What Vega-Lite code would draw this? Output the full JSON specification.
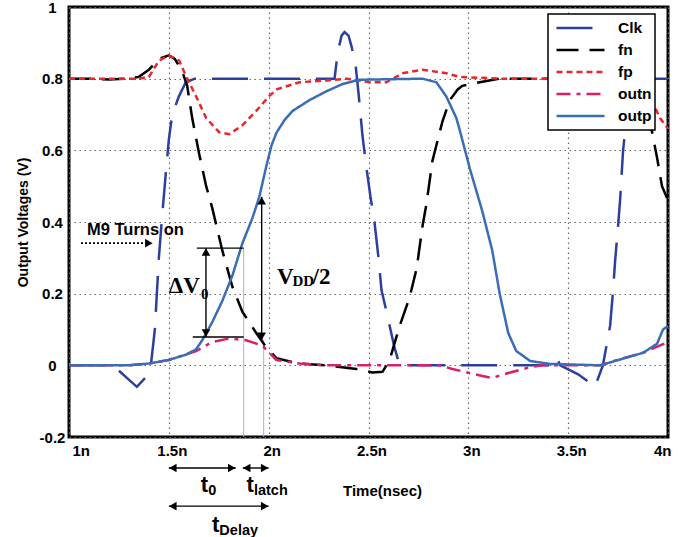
{
  "$schema": "https://vega.github.io/schema/vega-lite/v6.json",
  "width": 599,
  "height": 430,
  "autosize": {"type": "none"},
  "padding": {"left": 69, "top": 7, "right": 21, "bottom": 100},
  "background": "white",
  "config": {
    "view": {"stroke": "black", "strokeWidth": 3},
    "font": "Liberation Sans",
    "axis": {
      "grid": true, "gridDash": [1.5, 3.5], "gridColor": "#666666", "gridWidth": 1.2,
      "domain": false, "ticks": false,
      "labelFont": "Liberation Sans", "labelFontWeight": "bold", "labelFontSize": 15, "labelColor": "black",
      "titleFont": "Liberation Sans", "titleFontWeight": "bold", "titleColor": "black"
    },
    "legend": {
      "orient": "none", "legendX": 479, "legendY": 7, "direction": "vertical", "columns": 1,
      "fillColor": "white", "strokeColor": "black", "strokeWidth": 1.5,
      "padding": 3, "symbolType": "stroke", "symbolSize": 2304, "clipHeight": 22, "symbolOffset": 4,
      "labelFont": "Liberation Sans", "labelFontWeight": "bold", "labelFontSize": 15.5, "labelColor": "black",
      "labelOffset": 12, "rowPadding": 0, "labelAlign": "left", "gridAlign": "all"
    }
  },
  "datasets": {
    "curves": [
      {"s": "Clk", "t": 1.0, "v": 0}, {"s": "Clk", "t": 1.22, "v": 0}, {"s": "Clk", "t": 1.28, "v": -0.03}, {"s": "Clk", "t": 1.34, "v": -0.06},
      {"s": "Clk", "t": 1.39, "v": -0.03}, {"s": "Clk", "t": 1.41, "v": 0}, {"s": "Clk", "t": 1.43, "v": 0.1}, {"s": "Clk", "t": 1.44, "v": 0.2},
      {"s": "Clk", "t": 1.45, "v": 0.3}, {"s": "Clk", "t": 1.467, "v": 0.42}, {"s": "Clk", "t": 1.487, "v": 0.55}, {"s": "Clk", "t": 1.5, "v": 0.63},
      {"s": "Clk", "t": 1.517, "v": 0.7}, {"s": "Clk", "t": 1.55, "v": 0.75}, {"s": "Clk", "t": 1.585, "v": 0.79}, {"s": "Clk", "t": 1.63, "v": 0.8},
      {"s": "Clk", "t": 2.33, "v": 0.8}, {"s": "Clk", "t": 2.345, "v": 0.87}, {"s": "Clk", "t": 2.365, "v": 0.92}, {"s": "Clk", "t": 2.38, "v": 0.93},
      {"s": "Clk", "t": 2.4, "v": 0.92}, {"s": "Clk", "t": 2.415, "v": 0.89}, {"s": "Clk", "t": 2.435, "v": 0.84}, {"s": "Clk", "t": 2.45, "v": 0.76},
      {"s": "Clk", "t": 2.47, "v": 0.64}, {"s": "Clk", "t": 2.49, "v": 0.55}, {"s": "Clk", "t": 2.51, "v": 0.47}, {"s": "Clk", "t": 2.53, "v": 0.4},
      {"s": "Clk", "t": 2.55, "v": 0.3}, {"s": "Clk", "t": 2.565, "v": 0.21}, {"s": "Clk", "t": 2.59, "v": 0.15}, {"s": "Clk", "t": 2.63, "v": 0.05},
      {"s": "Clk", "t": 2.656, "v": 0}, {"s": "Clk", "t": 3.43, "v": 0}, {"s": "Clk", "t": 3.445, "v": 0.02}, {"s": "Clk", "t": 3.46, "v": 0},
      {"s": "Clk", "t": 3.55, "v": -0.025}, {"s": "Clk", "t": 3.6, "v": -0.045}, {"s": "Clk", "t": 3.634, "v": -0.06}, {"s": "Clk", "t": 3.674, "v": 0},
      {"s": "Clk", "t": 3.71, "v": 0.11}, {"s": "Clk", "t": 3.725, "v": 0.21}, {"s": "Clk", "t": 3.735, "v": 0.29}, {"s": "Clk", "t": 3.75, "v": 0.39},
      {"s": "Clk", "t": 3.76, "v": 0.46}, {"s": "Clk", "t": 3.775, "v": 0.6}, {"s": "Clk", "t": 3.79, "v": 0.68}, {"s": "Clk", "t": 3.82, "v": 0.75},
      {"s": "Clk", "t": 3.85, "v": 0.79}, {"s": "Clk", "t": 3.89, "v": 0.8}, {"s": "Clk", "t": 4.0, "v": 0.8},

      {"s": "fn", "t": 1.0, "v": 0.8}, {"s": "fn", "t": 1.1, "v": 0.8}, {"s": "fn", "t": 1.2, "v": 0.798}, {"s": "fn", "t": 1.3, "v": 0.8},
      {"s": "fn", "t": 1.35, "v": 0.805}, {"s": "fn", "t": 1.4, "v": 0.825}, {"s": "fn", "t": 1.45, "v": 0.855}, {"s": "fn", "t": 1.5, "v": 0.865},
      {"s": "fn", "t": 1.53, "v": 0.855}, {"s": "fn", "t": 1.567, "v": 0.82}, {"s": "fn", "t": 1.592, "v": 0.78}, {"s": "fn", "t": 1.617, "v": 0.69},
      {"s": "fn", "t": 1.652, "v": 0.59}, {"s": "fn", "t": 1.687, "v": 0.5}, {"s": "fn", "t": 1.717, "v": 0.44}, {"s": "fn", "t": 1.768, "v": 0.32},
      {"s": "fn", "t": 1.818, "v": 0.22}, {"s": "fn", "t": 1.868, "v": 0.15}, {"s": "fn", "t": 1.938, "v": 0.09}, {"s": "fn", "t": 1.988, "v": 0.05},
      {"s": "fn", "t": 2.039, "v": 0.02}, {"s": "fn", "t": 2.15, "v": 0.005}, {"s": "fn", "t": 2.29, "v": 0}, {"s": "fn", "t": 2.44, "v": -0.01},
      {"s": "fn", "t": 2.52, "v": -0.02}, {"s": "fn", "t": 2.57, "v": -0.018}, {"s": "fn", "t": 2.606, "v": 0.015}, {"s": "fn", "t": 2.656, "v": 0.11},
      {"s": "fn", "t": 2.706, "v": 0.19}, {"s": "fn", "t": 2.741, "v": 0.27}, {"s": "fn", "t": 2.771, "v": 0.39}, {"s": "fn", "t": 2.79, "v": 0.45},
      {"s": "fn", "t": 2.82, "v": 0.57}, {"s": "fn", "t": 2.87, "v": 0.68}, {"s": "fn", "t": 2.907, "v": 0.74}, {"s": "fn", "t": 2.947, "v": 0.77},
      {"s": "fn", "t": 2.97, "v": 0.78}, {"s": "fn", "t": 3.057, "v": 0.79}, {"s": "fn", "t": 3.157, "v": 0.8}, {"s": "fn", "t": 3.86, "v": 0.8},
      {"s": "fn", "t": 3.885, "v": 0.76}, {"s": "fn", "t": 3.91, "v": 0.68}, {"s": "fn", "t": 3.945, "v": 0.58}, {"s": "fn", "t": 3.97, "v": 0.5},
      {"s": "fn", "t": 4.0, "v": 0.46},

      {"s": "fp", "t": 1.0, "v": 0.8}, {"s": "fp", "t": 1.35, "v": 0.8}, {"s": "fp", "t": 1.4, "v": 0.805}, {"s": "fp", "t": 1.45, "v": 0.85},
      {"s": "fp", "t": 1.5, "v": 0.865}, {"s": "fp", "t": 1.552, "v": 0.85}, {"s": "fp", "t": 1.592, "v": 0.8}, {"s": "fp", "t": 1.637, "v": 0.75},
      {"s": "fp", "t": 1.687, "v": 0.69}, {"s": "fp", "t": 1.753, "v": 0.65}, {"s": "fp", "t": 1.803, "v": 0.645}, {"s": "fp", "t": 1.868, "v": 0.67},
      {"s": "fp", "t": 1.938, "v": 0.71}, {"s": "fp", "t": 2.0, "v": 0.75}, {"s": "fp", "t": 2.04, "v": 0.77}, {"s": "fp", "t": 2.154, "v": 0.79},
      {"s": "fp", "t": 2.29, "v": 0.795}, {"s": "fp", "t": 2.39, "v": 0.8}, {"s": "fp", "t": 2.505, "v": 0.79}, {"s": "fp", "t": 2.59, "v": 0.79},
      {"s": "fp", "t": 2.67, "v": 0.815}, {"s": "fp", "t": 2.77, "v": 0.825}, {"s": "fp", "t": 2.89, "v": 0.815}, {"s": "fp", "t": 2.957, "v": 0.805},
      {"s": "fp", "t": 3.157, "v": 0.8}, {"s": "fp", "t": 3.76, "v": 0.8}, {"s": "fp", "t": 3.86, "v": 0.79}, {"s": "fp", "t": 3.91, "v": 0.75},
      {"s": "fp", "t": 3.96, "v": 0.69}, {"s": "fp", "t": 4.0, "v": 0.66},

      {"s": "outn", "t": 1.0, "v": 0}, {"s": "outn", "t": 1.3, "v": 0}, {"s": "outn", "t": 1.4, "v": 0.005}, {"s": "outn", "t": 1.5, "v": 0.015},
      {"s": "outn", "t": 1.637, "v": 0.04}, {"s": "outn", "t": 1.717, "v": 0.065}, {"s": "outn", "t": 1.803, "v": 0.075}, {"s": "outn", "t": 1.888, "v": 0.07},
      {"s": "outn", "t": 1.968, "v": 0.055}, {"s": "outn", "t": 2.039, "v": 0.015}, {"s": "outn", "t": 2.154, "v": 0.005}, {"s": "outn", "t": 2.29, "v": 0},
      {"s": "outn", "t": 2.857, "v": 0}, {"s": "outn", "t": 2.92, "v": -0.01}, {"s": "outn", "t": 3.07, "v": -0.03}, {"s": "outn", "t": 3.12, "v": -0.035},
      {"s": "outn", "t": 3.21, "v": -0.02}, {"s": "outn", "t": 3.31, "v": -0.005}, {"s": "outn", "t": 3.373, "v": 0}, {"s": "outn", "t": 3.66, "v": 0},
      {"s": "outn", "t": 3.745, "v": 0.015}, {"s": "outn", "t": 3.875, "v": 0.035}, {"s": "outn", "t": 4.0, "v": 0.065},

      {"s": "outp", "t": 1.0, "v": 0}, {"s": "outp", "t": 1.3, "v": 0}, {"s": "outp", "t": 1.4, "v": 0.005}, {"s": "outp", "t": 1.5, "v": 0.015},
      {"s": "outp", "t": 1.587, "v": 0.03}, {"s": "outp", "t": 1.637, "v": 0.045}, {"s": "outp", "t": 1.667, "v": 0.07}, {"s": "outp", "t": 1.717, "v": 0.12},
      {"s": "outp", "t": 1.768, "v": 0.18}, {"s": "outp", "t": 1.818, "v": 0.25}, {"s": "outp", "t": 1.868, "v": 0.34}, {"s": "outp", "t": 1.918, "v": 0.41},
      {"s": "outp", "t": 1.953, "v": 0.47}, {"s": "outp", "t": 1.99, "v": 0.56}, {"s": "outp", "t": 2.015, "v": 0.615}, {"s": "outp", "t": 2.04, "v": 0.65},
      {"s": "outp", "t": 2.08, "v": 0.685}, {"s": "outp", "t": 2.12, "v": 0.71},
      {"s": "outp", "t": 2.204, "v": 0.74}, {"s": "outp", "t": 2.29, "v": 0.765}, {"s": "outp", "t": 2.37, "v": 0.785}, {"s": "outp", "t": 2.455, "v": 0.797},
      {"s": "outp", "t": 2.77, "v": 0.8}, {"s": "outp", "t": 2.84, "v": 0.79}, {"s": "outp", "t": 2.89, "v": 0.75}, {"s": "outp", "t": 2.94, "v": 0.69},
      {"s": "outp", "t": 2.96, "v": 0.65}, {"s": "outp", "t": 3.007, "v": 0.55}, {"s": "outp", "t": 3.07, "v": 0.43}, {"s": "outp", "t": 3.12, "v": 0.32},
      {"s": "outp", "t": 3.157, "v": 0.2}, {"s": "outp", "t": 3.2, "v": 0.09}, {"s": "outp", "t": 3.24, "v": 0.04}, {"s": "outp", "t": 3.31, "v": 0.012},
      {"s": "outp", "t": 3.41, "v": 0.004},
      {"s": "outp", "t": 3.66, "v": 0}, {"s": "outp", "t": 3.875, "v": 0.035}, {"s": "outp", "t": 3.945, "v": 0.06}, {"s": "outp", "t": 3.975, "v": 0.1},
      {"s": "outp", "t": 4.0, "v": 0.11}
    ],
    "guides": [
      {"t": 1.875, "v": 0.327, "v2": -0.2},
      {"t": 1.975, "v": 0.07, "v2": -0.2}
    ],
    "dims": [
      {"t": 1.64, "t2": 1.875, "v": 0.327, "v2": 0.327},
      {"t": 1.62, "t2": 1.875, "v": 0.079, "v2": 0.079},
      {"t": 1.686, "t2": 1.686, "v": 0.327, "v2": 0.079},
      {"t": 1.965, "t2": 1.965, "v": 0.47, "v2": 0.07},
      {"t": 1.5, "t2": 1.835, "v": -0.2865, "v2": -0.2865},
      {"t": 1.87, "t2": 2.0, "v": -0.2865, "v2": -0.2865},
      {"t": 1.5, "t2": 2.0, "v": -0.393, "v2": -0.393}
    ],
    "m9": [
      {"t": 1.06, "t2": 1.39, "v": 0.341, "v2": 0.341}
    ],
    "heads": [
      {"t": 1.686, "v": 0.316, "dir": "up"},
      {"t": 1.686, "v": 0.09, "dir": "down"},
      {"t": 1.965, "v": 0.459, "dir": "up"},
      {"t": 1.965, "v": 0.081, "dir": "down"},
      {"t": 1.40, "v": 0.341, "dir": "right"},
      {"t": 1.52, "v": -0.2865, "dir": "left"},
      {"t": 1.815, "v": -0.2865, "dir": "right"},
      {"t": 1.89, "v": -0.2865, "dir": "left"},
      {"t": 1.98, "v": -0.2865, "dir": "right"},
      {"t": 1.52, "v": -0.393, "dir": "left"},
      {"t": 1.98, "v": -0.393, "dir": "right"}
    ],
    "sansBig": [
      {"t": 1.66, "v": -0.3535, "label": "t"},
      {"t": 1.889, "v": -0.3535, "label": "t"},
      {"t": 1.716, "v": -0.465, "label": "t"}
    ],
    "sansSub": [
      {"t": 1.697, "v": -0.362, "label": "0"},
      {"t": 1.926, "v": -0.362, "label": "latch"},
      {"t": 1.753, "v": -0.4735, "label": "Delay"}
    ],
    "m9text": [
      {"t": 1.09, "v": 0.364, "label": "M9 Turns on"}
    ],
    "serifBig": [
      {"t": 1.5, "v": 0.203, "label": "ΔV"},
      {"t": 2.042, "v": 0.227, "label": "V"},
      {"t": 2.22, "v": 0.227, "label": "/2"}
    ],
    "serifSub": [
      {"t": 1.661, "v": 0.185, "label": "0"},
      {"t": 2.119, "v": 0.221, "label": "DD"}
    ]
  },
  "encoding": {
    "x": {"field": "t", "type": "quantitative",
      "scale": {"domain": [1, 4], "nice": false, "zero": false},
      "axis": {"values": [1, 1.5, 2, 2.5, 3, 3.5, 4], "labelExpr": "datum.value + 'n'", "labelPadding": 6, "labelOffset": 3,
        "title": "Time(nsec)", "titleFontSize": 15, "titleX": 313, "titleY": 58, "titleAlign": "center", "titleBaseline": "alphabetic", "titleAnchor": null}},
    "y": {"field": "v", "type": "quantitative",
      "scale": {"domain": [-0.2, 1], "nice": false, "zero": false},
      "axis": {"values": [-0.2, 0, 0.2, 0.4, 0.6, 0.8, 1], "labelExpr": "'' + datum.value", "labelAlign": "center", "labelPadding": 17,
        "title": "Output Voltages (V)", "titleFontSize": 14, "titleX": -46, "titleY": 215, "titleAngle": -90, "titleAlign": "center", "titleBaseline": "middle", "titleAnchor": null}}
  },
  "layer": [
    {
      "data": {"name": "guides"},
      "mark": {"type": "rule", "color": "#b0b0b0", "strokeWidth": 1},
      "encoding": {"y2": {"field": "v2"}}
    },
    {
      "data": {"name": "curves"},
      "mark": {"type": "line", "strokeCap": "butt"},
      "encoding": {
        "color": {"field": "s", "type": "nominal",
          "scale": {"domain": ["Clk", "fn", "fp", "outn", "outp"], "range": ["#2c3f9e", "#000000", "#e8262b", "#d81f6b", "#3a6db5"]},
          "legend": {"title": null}},
        "strokeDash": {"field": "s", "type": "nominal",
          "scale": {"domain": ["Clk", "fn", "fp", "outn", "outp"], "range": [[36, 16], [22, 11], [6, 4], [14, 6, 4, 6], [1, 0]]},
          "legend": {"title": null}},
        "strokeWidth": {"field": "s", "type": "nominal",
          "scale": {"domain": ["Clk", "fn", "fp", "outn", "outp"], "range": [2.5, 2.5, 5, 3.2, 2.2]},
          "legend": {"title": null}}
      }
    },
    {
      "data": {"name": "dims"},
      "mark": {"type": "rule", "color": "black", "strokeWidth": 1.4},
      "encoding": {"x2": {"field": "t2"}, "y2": {"field": "v2"}}
    },
    {
      "data": {"name": "m9"},
      "mark": {"type": "rule", "color": "black", "strokeWidth": 1.6, "strokeDash": [2, 2]},
      "encoding": {"x2": {"field": "t2"}, "y2": {"field": "v2"}}
    },
    {
      "data": {"name": "heads"},
      "mark": {"type": "point", "filled": true, "color": "black", "size": 75, "opacity": 1},
      "encoding": {
        "shape": {"field": "dir", "type": "nominal",
          "scale": {"domain": ["up", "down", "left", "right"], "range": ["triangle-up", "triangle-down", "triangle-left", "triangle-right"]},
          "legend": null}
      }
    },
    {
      "data": {"name": "sansBig"},
      "mark": {"type": "text", "font": "Liberation Sans", "fontWeight": "bold", "fontSize": 22, "align": "left", "baseline": "alphabetic", "color": "black"},
      "encoding": {"text": {"field": "label"}}
    },
    {
      "data": {"name": "sansSub"},
      "mark": {"type": "text", "font": "Liberation Sans", "fontWeight": "bold", "fontSize": 14.5, "align": "left", "baseline": "alphabetic", "color": "black"},
      "encoding": {"text": {"field": "label"}}
    },
    {
      "data": {"name": "m9text"},
      "mark": {"type": "text", "font": "Liberation Sans", "fontWeight": "bold", "fontSize": 16.5, "align": "left", "baseline": "alphabetic", "color": "black"},
      "encoding": {"text": {"field": "label"}}
    },
    {
      "data": {"name": "serifBig"},
      "mark": {"type": "text", "font": "Liberation Serif", "fontWeight": "bold", "fontSize": 23, "align": "left", "baseline": "alphabetic", "color": "black"},
      "encoding": {"text": {"field": "label"}}
    },
    {
      "data": {"name": "serifSub"},
      "mark": {"type": "text", "font": "Liberation Serif", "fontWeight": "bold", "fontSize": 15, "align": "left", "baseline": "alphabetic", "color": "black"},
      "encoding": {"text": {"field": "label"}}
    }
  ]
}
